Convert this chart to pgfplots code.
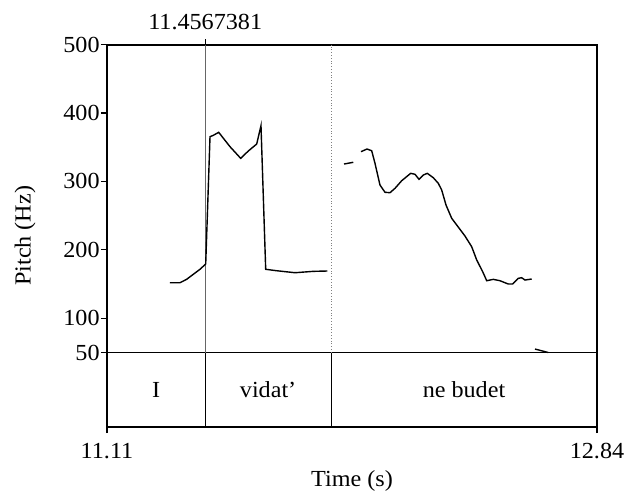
\documentclass[border=0pt]{standalone}
\usepackage{fontspec}
\setmainfont{Liberation Serif}[FakeStretch=1.05]
\usepackage{pgfplots}
\pgfplotsset{compat=1.18}

\begin{document}
\fontsize{11.5}{14}\selectfont
\begin{tikzpicture}
\begin{axis}[
  name=ax,
  scale only axis,
  width=245pt, height=191.25pt,
  xmin=11.11, xmax=12.84,
  ymin=-58.8, ymax=500,
  xtick={11.11,12.84}, xticklabels={11.11,12.84},
  ytick={50,100,200,300,400,500},
  xtick pos=bottom, ytick pos=left,
  tick align=outside,
  major tick length=3pt,
  tick style={black, line width=0.6pt},
  axis line style={line width=1pt},
  /pgf/number format/assume math mode=true,
  yticklabel style={inner xsep=0.5pt},
  xticklabel style={inner sep=0pt, yshift=-5pt},
  xlabel={Time (s)}, ylabel={Pitch (Hz)},
  xlabel style={at={(rel axis cs:0.5,-0.14)}, anchor=center, inner sep=0pt},
  ylabel style={at={(rel axis cs:-0.167,0.5)}, anchor=center, inner sep=0pt},
  clip=false,
]
% tier / interval lines
\addplot[black, line width=0.5pt] coordinates {(11.11,50) (12.84,50)};
\addplot[black!60, line width=0.4pt] coordinates {(11.4567381,50) (11.4567381,500)};
\addplot[black, line width=0.5pt] coordinates {(11.4567381,-58.8) (11.4567381,50)};
\addplot[gray, line width=0.4pt, densely dotted] coordinates {(11.9009,50) (11.9009,500)};
\addplot[black, line width=0.5pt] coordinates {(11.9009,-58.8) (11.9009,50)};

% pitch track
\addplot[black, line width=0.7pt] coordinates {
  (11.3324,152.0) (11.3677,152.0) (11.3914,157.0) (11.4147,164.3) (11.4383,171.6)
  (11.4585,179.3) (11.4737,365.3) (11.4853,367.3) (11.5044,371.7) (11.5443,350.7)
  (11.5820,333.7) (11.6089,344.4) (11.6385,354.6) (11.6537,381.4) (11.6703,171.6)
  (11.7091,169.5) (11.7738,166.6) (11.8384,168.6) (11.8878,169.1)
};
\addplot[black, line width=0.7pt] coordinates {(11.9468,325.4) (11.9796,327.9)};
\addplot[black, line width=0.7pt] coordinates {
  (12.0068,343.4) (12.0280,347.3) (12.0445,344.8) (12.0562,326.4) (12.0738,294.7)
  (12.0915,284.1) (12.1092,283.5) (12.1268,289.9) (12.1505,301.0) (12.1822,311.8)
  (12.1974,310.4) (12.2115,303.1) (12.2267,309.3) (12.2408,311.8) (12.2620,305.4)
  (12.2797,297.2) (12.2917,287.4) (12.3069,265.5) (12.3270,246.1) (12.3447,236.3)
  (12.3739,220.2) (12.3976,204.6) (12.4153,185.2) (12.4364,168.1) (12.4506,154.9)
  (12.4739,156.9) (12.4975,154.9) (12.5268,150.1) (12.5424,150.1) (12.5621,158.4)
  (12.5741,159.3) (12.5858,155.9) (12.6094,157.4)
};
\addplot[black, line width=0.7pt] coordinates {(12.6211,55.1) (12.6681,50.0)};

% cursor marker on top
\draw[black, line width=0.5pt] (axis cs:11.4567381,500) -- ++(0pt,3pt);
\node[anchor=south, inner sep=0pt, yshift=7pt] at (axis cs:11.4567381,500) {11.4567381};

% tier labels
\node at (axis cs:11.2834,-4.6) {I};
\node at (axis cs:11.6788,-4.6) {vidat’};
\node at (axis cs:12.3705,-4.6) {ne budet};
\end{axis}
\path ([shift={(-53.5pt,-34pt)}]ax.south west) rectangle ([shift={(15.5pt,22.25pt)}]ax.north east);
\end{tikzpicture}
\end{document}
